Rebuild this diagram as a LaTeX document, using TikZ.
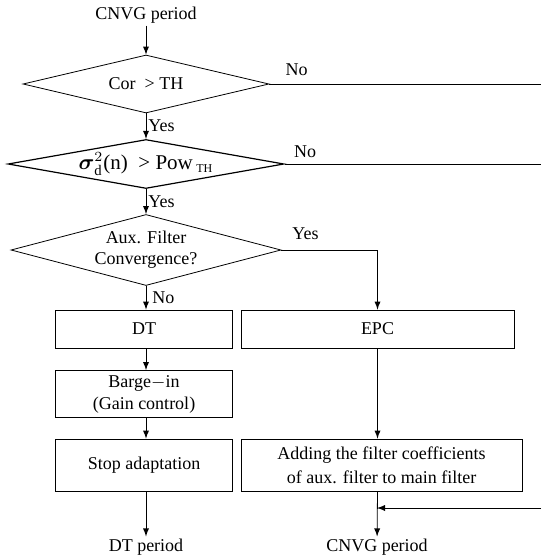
\documentclass[tikz,border=0pt]{standalone}
\usepackage{amsmath}
\usepackage{fontspec}
\setmainfont{Liberation Serif}
\usetikzlibrary{shapes.geometric, arrows, positioning}
\tikzstyle{decision} = [diamond, draw=black, inner sep=0pt, align=center, font=\fontsize{9}{10.5}\selectfont]
\tikzstyle{process} = [rectangle, draw=black, inner sep=0pt, align=center, font=\fontsize{9}{11}\selectfont]
\tikzstyle{arrow} = [->,>=latex]
\tikzset{
	tag/.style={inner sep=1pt, font=\fontsize{9}{10}\selectfont},
	period/.style={inner sep=1pt, font=\fontsize{9}{10}\selectfont}
}

\begin{document}
\begin{tikzpicture}[x=0.5pt, y=-0.5pt]
		\useasboundingbox (0,0) rectangle (541,556);
		
		% Nodes
		\node (start) [period] at (146,15) {CNVG period};
		\node (cor) [decision, aspect=4.24, minimum width=123pt, minimum height=29pt] at (146,84) {Cor \ > TH};
		\node (pow) [decision, semithick, aspect=5.6, minimum width=138pt, minimum height=24.5pt, font=\fontsize{10.5}{12}\selectfont] at (146,164) {$\boldsymbol{\sigma}_{\mathrm{d}}^{2}$(n) \ > Pow\,$_{\text{\fontsize{6}{7}\selectfont TH}}$};
		\node (aux) [decision, aspect=3.8, minimum width=135pt, minimum height=35.5pt] at (146,250) {Aux. Filter \\ Convergence?};
		\node (dt) [process, minimum width=88.5pt, minimum height=19pt] at (144,329) {DT};
		\node (epc) [process, minimum width=136.5pt, minimum height=19pt] at (377.5,329) {EPC};
		\node (barge) [process, minimum width=88.5pt, minimum height=23.5pt] at (144,394) {Barge$-$in \\ (Gain control)};
		\node (stop) [process, minimum width=88.5pt, minimum height=26pt] at (144,465) {Stop adaptation};
		\node (add) [process, minimum width=140.5pt, minimum height=26pt] at (381.5,465) {Adding the filter coefficients \\[1pt] of aux. filter to main filter};
		\node (dtend) [period] at (146,547) {DT period};
		\node (cnvgend) [period] at (377,547) {CNVG period};
		
		% Right border
		\coordinate (rimA) at (541,84);
		\coordinate (rimB) at (541,164);
		\coordinate (rimC) at (541,508);
		
		% Arrows
		\draw [arrow] (start) -- (cor);
		\draw [arrow] (cor) -- node[tag, anchor=west] {Yes} (pow);
		\draw [arrow] (pow) -- node[tag, anchor=west] {Yes} (aux);
		\draw [arrow] (aux.south) -- node[tag, anchor=west, xshift=2pt] {No} (dt.north -| aux.south);
		\draw [arrow] (aux.east) -- node[tag, above, pos=0.25, yshift=4pt] {Yes} (aux.east -| epc.north) -- (epc.north);
		\draw [arrow] (dt.south -| aux.south) -- (barge.north -| aux.south);
		\draw [arrow] (barge.south -| aux.south) -- (stop.north -| aux.south);
		\draw [arrow] (stop.south -| aux.south) -- (dtend);
		\draw [arrow] (epc.south) -- (epc.south |- add.north);
		\draw [arrow] (epc.south |- add.south) -- (cnvgend);
		\draw (cor.east) -- node[tag, above, pos=0.1, yshift=3pt] {No} (rimA);
		\draw (pow.east) -- node[tag, above, pos=0.08, yshift=2pt] {No} (rimB);
		\draw [arrow] (rimC) -- (rimC -| cnvgend);
		
	\end{tikzpicture}
\end{document}
